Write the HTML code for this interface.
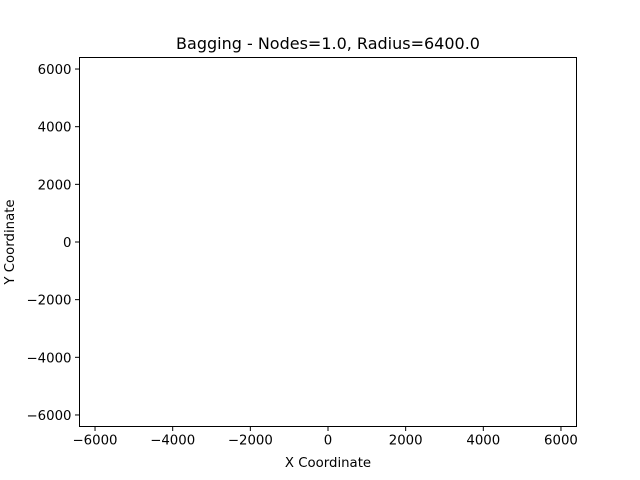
<!DOCTYPE html>
<html><head><meta charset="utf-8"><style>
body{margin:0;background:#fff;}
svg{display:block;font-family:"DejaVu Sans","Liberation Sans",sans-serif;}
</style></head><body>
<svg id="chart" width="640" height="480">
<rect width="640" height="480" fill="#fff"/>
<text x="328" y="49" text-anchor="middle" font-size="16">Bagging - Nodes=1.0, Radius=6400.0</text>
<g id="xticks"></g>
<g id="yticks"></g>
<g id="points"></g>
<rect x="79.5" y="57.5" width="497" height="369" fill="none" stroke="#000" stroke-width="1"/>
<text x="328" y="467" text-anchor="middle" font-size="13.3">X Coordinate</text>
<text transform="translate(14,242) rotate(-90)" text-anchor="middle" font-size="13.3">Y Coordinate</text>
</svg>
<script>
const xTicks=[-6000,-4000,-2000,0,2000,4000,6000];
const yTicks=[-6000,-4000,-2000,0,2000,4000,6000];
const xs=[];
const ys=[];
const xMin=-6400,xMax=6400,yMin=-6400,yMax=6400;
const L=79.5,R=576.5,T=57.5,B=426.5;
const sx=v=>L+(v-xMin)/(xMax-xMin)*(R-L);
const sy=v=>B-(v-yMin)/(yMax-yMin)*(B-T);
const NS="http://www.w3.org/2000/svg";
const fmt=v=>v<0?"\u2212"+Math.abs(v):String(v);
const gx=document.getElementById('xticks');
xTicks.forEach(v=>{
  const l=document.createElementNS(NS,'line');
  l.setAttribute('x1',sx(v));l.setAttribute('x2',sx(v));l.setAttribute('y1',B);l.setAttribute('y2',B+4.5);l.setAttribute('stroke','#000');
  
  
  gx.appendChild(l);
  const t=document.createElementNS(NS,'text');
  t.setAttribute('x',sx(v));t.setAttribute('y',B+18);t.setAttribute('text-anchor','middle');t.setAttribute('font-size','13.3');
  t.textContent=fmt(v);
  
  
  gx.appendChild(t);
});
const gy=document.getElementById('yticks');
yTicks.forEach(v=>{
  const l=document.createElementNS(NS,'line');
  l.setAttribute('x1',L-4.5);l.setAttribute('x2',L);l.setAttribute('y1',sy(v));l.setAttribute('y2',sy(v));l.setAttribute('stroke','#000');
  
  
  gy.appendChild(l);
  const t=document.createElementNS(NS,'text');
  t.setAttribute('x',L-8);t.setAttribute('y',sy(v)+5);t.setAttribute('text-anchor','end');t.setAttribute('font-size','13.3');
  t.textContent=fmt(v);
  
  
  gy.appendChild(t);
});
const gp=document.getElementById('points');
xs.forEach((x,i)=>{
  const c=document.createElementNS(NS,'circle');
  c.setAttribute('cx',sx(x));c.setAttribute('cy',sy(ys[i]));c.setAttribute('r',3);c.setAttribute('fill','#1f77b4');
  
  
  gp.appendChild(c);
});
</script>
</body></html>
